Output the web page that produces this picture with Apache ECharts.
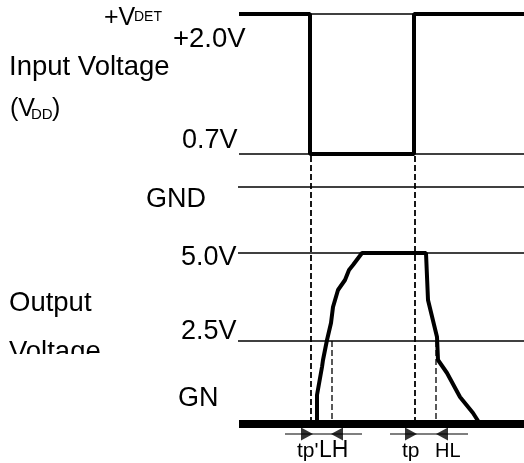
<!DOCTYPE html>
<html>
<head>
<meta charset="utf-8">
<script src="https://cdn.jsdelivr.net/npm/echarts@6/dist/echarts.min.js"></script>
<style>
  html, body { margin: 0; padding: 0; background: #fff; }
  #main { width: 524px; height: 463px; }
</style>
</head>
<body>
<div id="main"></div>
<script type="text/javascript">
    // 时序图数据（横向为时间，纵向为图上电平位置）
    var inputWave = [[239, 14], [310, 14], [310, 154], [414, 154], [414, 14], [524, 14]];
    var vdetLine = [[239, 14], [524, 14]];
    var v07Line = [[239, 154], [524, 154]];
    var gndLine = [[238, 187], [524, 187]];
    var v50Line = [[238, 253], [524, 253]];
    var v25Line = [[238, 341], [524, 341]];
    var gnLine = [[239, 424], [524, 424]];
    var outputWave = [[317, 424], [317, 395], [322, 367], [323, 360], [327, 340], [331, 323], [333, 307],
        [338, 290], [345, 280], [349, 270], [353, 265], [362, 253], [426, 253], [428, 300], [437, 337],
        [438, 360], [447, 373], [460, 397], [473, 413], [480, 424]];
    var dashLines = [
        [[311, 156], [311, 424]],
        [[415, 156], [415, 424]],
        [[332, 341], [332, 424]],
        [[436, 341], [436, 424]]
    ];
    var arrowLines = [[[285, 434], [362, 434]], [[390, 434], [468, 434]]];
    var arrowRight = [[307, 434], [411, 434]];
    var arrowLeft = [[337, 434], [442, 434]];

    var myChart = echarts.init(document.getElementById('main'));

    function line(data, width, type) {
        return {
            type: 'line', data: data, showSymbol: false, silent: true,
            lineStyle: { color: '#000', width: width, type: type || 'solid' }
        };
    }

    var series = [
        line(vdetLine, 1.3), line(v07Line, 1.3), line(gndLine, 1.3),
        line(v50Line, 1.3), line(v25Line, 1.3),
        line(inputWave, 4), line(gnLine, 8), line(outputWave, 4)
    ];
    dashLines.forEach(function (d, i) {
        series.push(line(d, i < 2 ? 1.8 : 1.3, [6, 3]));
    });
    arrowLines.forEach(function (d) { series.push(line(d, 1.2)); });
    series.push({
        type: 'scatter', data: arrowRight, symbol: 'path://M0,0L10,5L0,10Z',
        symbolSize: [12, 13], itemStyle: { color: '#000' }, silent: true
    });
    series.push({
        type: 'scatter', data: arrowLeft, symbol: 'path://M10,0L0,5L10,10Z',
        symbolSize: [12, 13], itemStyle: { color: '#000' }, silent: true
    });

    var F = '"Liberation Sans", Arial, sans-serif';
    function txt(s, x, y, size) {
        return {
            type: 'text', z: 50,
            style: { text: s, x: x, y: y, font: size + 'px ' + F, fill: '#000', textVerticalAlign: 'middle' }
        };
    }

    option = {
        animation: false,
        grid: { left: 0, right: 0, top: 0, bottom: 0 },
        xAxis: { type: 'value', min: 0, max: 524, show: false },
        yAxis: { type: 'value', min: 0, max: 463, inverse: true, show: false },
        series: series,
        graphic: [
            txt('+V', 104, 18, 25),
            txt('DET', 134, 17, 14),
            txt('+2.0V', 173, 39, 27.5),
            txt('Input Voltage', 9, 67, 27.5),
            txt('(V', 10, 109, 25),
            txt('DD', 31, 115, 15),
            txt(')', 52, 109, 25),
            txt('0.7V', 182, 141, 27),
            txt('GND', 146, 200, 27),
            txt('5.0V', 181, 258, 27),
            txt('Output', 9, 303, 27.5),
            txt('2.5V', 181, 332, 27),
            txt('Voltage', 9, 352, 27.5),
            { type: 'rect', z: 60, shape: { x: 0, y: 354, width: 120, height: 20 }, style: { fill: '#fff' } },
            txt('GN', 178, 399, 27),
            txt("tp'", 297, 451, 21),
            txt('LH', 319, 451, 23),
            txt('tp', 402, 451, 21),
            txt('HL', 435, 451, 20)
        ]
    };

    myChart.setOption(option);
</script>
</body>
</html>
